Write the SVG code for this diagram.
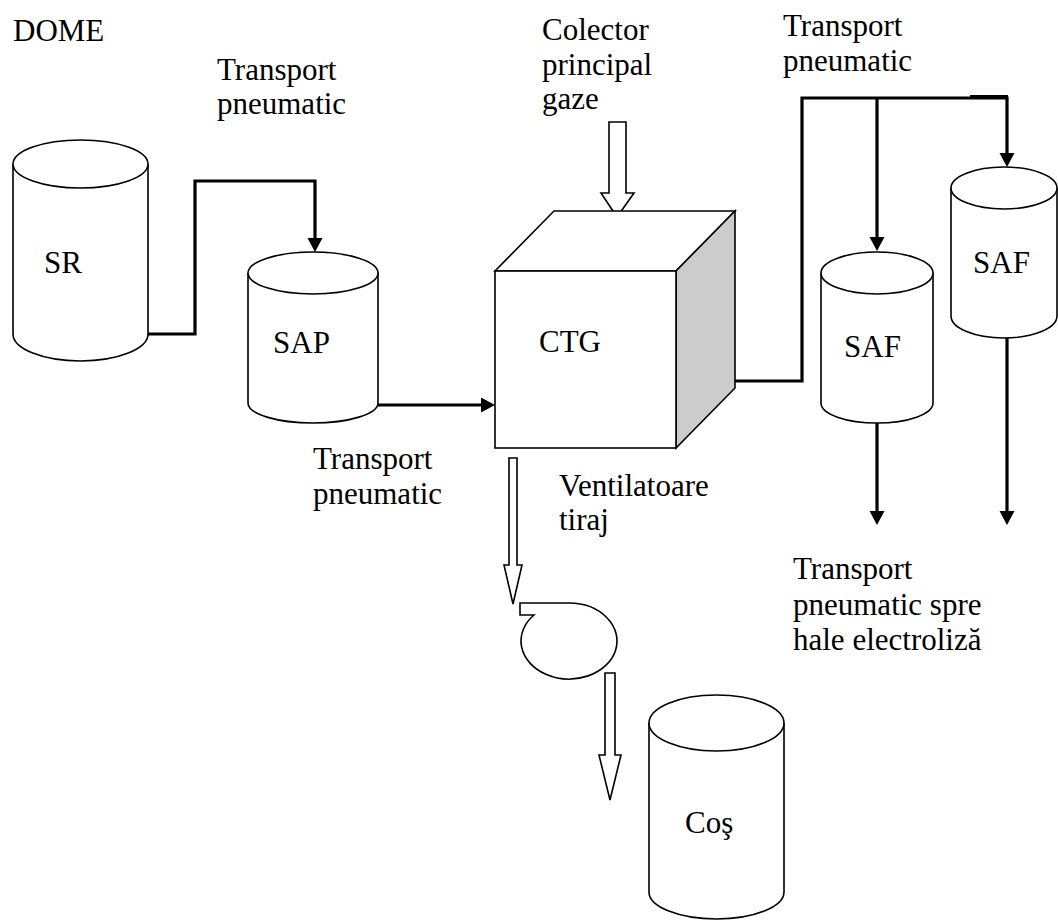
<svg xmlns="http://www.w3.org/2000/svg" width="1058" height="921" viewBox="0 0 1058 921">
  <style>
    text { font-family: "Liberation Serif", "Times New Roman", serif; font-size: 31px; fill: #000; }
    .body { fill: #fff; stroke: #000; stroke-width: 1.6; }
    .pipe { fill: none; stroke: #000; stroke-width: 3.2; }
    .hollow { fill: #fff; stroke: #000; stroke-width: 1.6; stroke-linejoin: miter; }
  </style>
  <defs>
    <marker id="head" markerUnits="userSpaceOnUse" markerWidth="15" markerHeight="16" refX="0" refY="7.5" orient="auto">
      <path d="M0,0 L14,7.5 L0,15 z" fill="#000"/>
    </marker>
  </defs>
  <rect width="1058" height="921" fill="#fff"/>

  <!-- free labels -->
  <g id="labels">
    <text x="13" y="41">DOME</text>
    <text x="217" y="80">Transport</text>
    <text x="217" y="114">pneumatic</text>
    <text x="542" y="40">Colector</text>
    <text x="542" y="74.5">principal</text>
    <text x="542" y="109">gaze</text>
    <text x="783" y="36">Transport</text>
    <text x="783" y="71">pneumatic</text>
    <text x="313" y="469">Transport</text>
    <text x="313" y="504">pneumatic</text>
    <text x="559" y="496">Ventilatoare</text>
    <text x="559" y="530">tiraj</text>
    <text x="793" y="579">Transport</text>
    <text x="793" y="615">pneumatic spre</text>
    <text x="793" y="650">hale electroliză</text>
  </g>

  <!-- pneumatic transport lines -->
  <g id="connectors">
    <path class="pipe" d="M148,334 H195 V181 H315 V238" marker-end="url(#head)"/>
    <path class="pipe" d="M372,405 H481" marker-end="url(#head)"/>
    <path class="pipe" d="M735,381 H802 V98 H1007 V153" marker-end="url(#head)"/>
    <path class="pipe" d="M970,96.5 H1008" stroke-width="4"/>
    <path class="pipe" d="M877,98 V237" marker-end="url(#head)"/>
    <path class="pipe" d="M877,423 V511" marker-end="url(#head)"/>
    <path class="pipe" d="M1007,338 V511" marker-end="url(#head)"/>
    <!-- gas flow arrows -->
    <polygon class="hollow" points="609,122 626,122 626,193 634,193 617,217 601,193 609,193"/>
    <polygon class="hollow" points="509,458 517,458 517,565 522,565 513,604 504,565 509,565"/>
    <polygon class="hollow" points="605,673 615,673 615,755 621,755 610,800 599,755 605,755"/>
  </g>

  <!-- SR silo -->
  <g id="SR">
    <path class="body" d="M13,164 V334 A67.5,27 0 0 0 148,334 V164"/>
    <ellipse class="body" cx="80.5" cy="164" rx="67.5" ry="24"/>
    <text x="44" y="273">SR</text>
  </g>

  <!-- SAP silo -->
  <g id="SAP">
    <path class="body" d="M248,273 V403 A65,20 0 0 0 378,403 V273"/>
    <ellipse class="body" cx="313" cy="273" rx="65" ry="21"/>
    <text x="273" y="353">SAP</text>
  </g>

  <!-- CTG gas treatment unit -->
  <g id="CTG">
    <polygon class="body" points="495,271 554,211 735,211 676,271"/>
    <polygon class="body" points="676,271 735,211 735,388 676,448" style="fill:#cccccc"/>
    <rect class="body" x="495" y="271" width="181" height="177"/>
    <text x="539" y="352">CTG</text>
  </g>

  <!-- draught fan -->
  <g id="fan">
    <path class="body" d="M520,603 L569,603 A48,38 0 1 1 534,615 L520,615 Z"/>
  </g>

  <!-- SAF silos -->
  <g id="SAF1">
    <path class="body" d="M821,273 V403 A56,20 0 0 0 933,403 V273"/>
    <ellipse class="body" cx="877" cy="273" rx="56" ry="21"/>
    <text x="844" y="357">SAF</text>
  </g>
  <g id="SAF2">
    <path class="body" d="M951,188 V316 A53,22 0 0 0 1057,316 V188"/>
    <ellipse class="body" cx="1004" cy="188" rx="53" ry="21"/>
    <text x="973" y="273">SAF</text>
  </g>

  <!-- stack -->
  <g id="Cos">
    <path class="body" d="M649,723 V892 A67.5,27 0 0 0 784,892 V723"/>
    <ellipse class="body" cx="716.5" cy="723" rx="67.5" ry="28"/>
    <text x="685" y="833">Coş</text>
  </g>
</svg>
